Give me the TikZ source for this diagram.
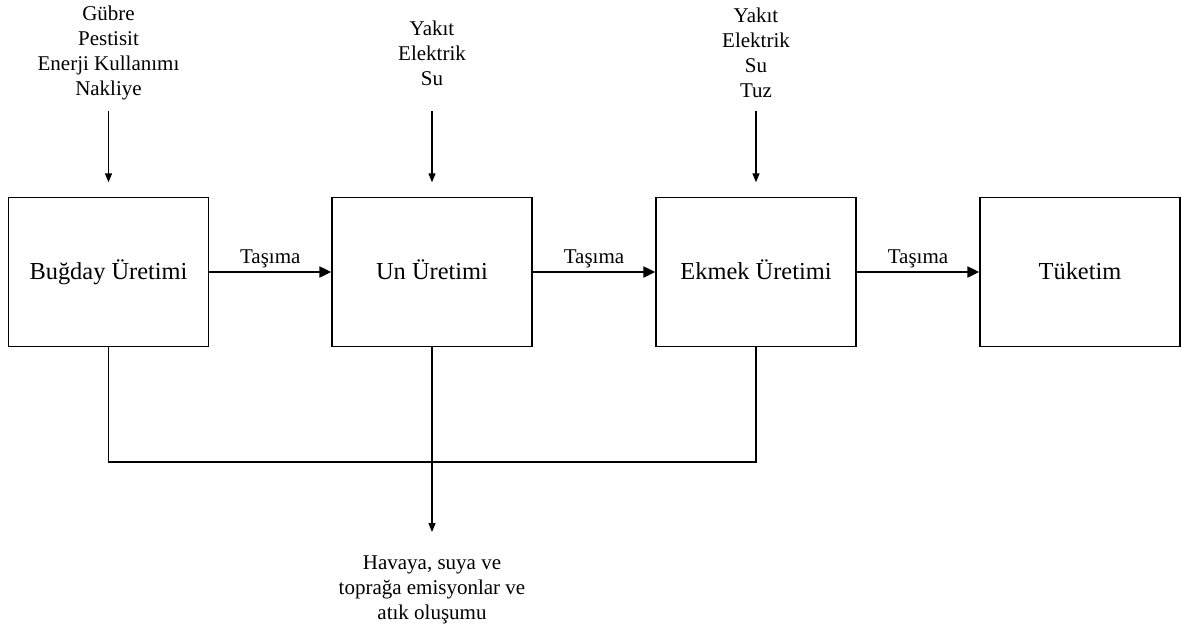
\documentclass[tikz,border=0pt]{standalone}
\usepackage{fontspec}
\setmainfont{Liberation Serif}
\usetikzlibrary{arrows.meta}
\begin{document}
\begin{tikzpicture}[x=1pt,y=-1pt,
  box/.style={draw, line width=1.4pt, minimum width=200pt, minimum height=149pt, inner sep=0pt,
    text height=18pt, text depth=4pt, font=\fontsize{24.4}{29}\selectfont},
  lbl/.style={align=center, inner sep=0pt, font=\fontsize{21}{25}\selectfont},
  thinarr/.style={line width=1.2pt, -{Triangle[length=9pt,width=7pt]}},
  thickarr/.style={line width=2.2pt, -{Triangle[length=12pt,width=11pt]}},
  conn/.style={line width=1.5pt}]
\useasboundingbox (0,0) rectangle (1182,635);
% boxes
\node[box] (b1) at (108.5,272) {Buğday Üretimi};
\node[box] (b2) at (432,272) {Un Üretimi};
\node[box] (b3) at (756,272) {Ekmek Üretimi};
\node[box] (b4) at (1080,272) {Tüketim};
% input labels
\node[lbl] (i1) at (108.5,53) {Gübre\\Pestisit\\Enerji Kullanımı\\Nakliye};
\node[lbl] (i2) at (432,53.5) {Yakıt\\Elektrik\\Su};
\node[lbl] (i3) at (756,52.5) {Yakıt\\Elektrik\\Su\\Tuz};
% input arrows
\coordinate (a1) at (108.5,111);
\coordinate (a2) at (432,111);
\coordinate (a3) at (756,111);
\draw[thinarr] (a1) -- ([yshift=14.5pt]b1.north);
\draw[thinarr] (a2) -- ([yshift=14.5pt]b2.north);
\draw[thinarr] (a3) -- ([yshift=14.5pt]b3.north);
% transport arrows
\draw[thickarr] (b1.east) -- node[lbl, anchor=base, yshift=8.5pt]{Taşıma} (b2.west);
\draw[thickarr] (b2.east) -- node[lbl, anchor=base, yshift=8.5pt]{Taşıma} (b3.west);
\draw[thickarr] (b3.east) -- node[lbl, anchor=base, yshift=8.5pt]{Taşıma} (b4.west);
% emissions collector
\coordinate (j) at (432,462);
\coordinate (o) at (432,532);
\draw[conn] (b1.south) -- (b1.south |- j) -- (b3.south |- j) -- (b3.south);
\draw[thinarr] (b2.south) -- (o);
\node[lbl] (out) at (432,590) {Havaya, suya ve\\toprağa emisyonlar ve\\atık oluşumu};
\end{tikzpicture}
\end{document}
